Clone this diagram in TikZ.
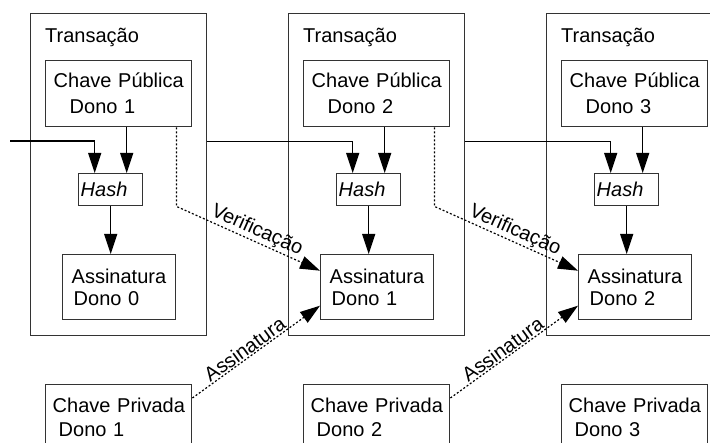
\documentclass[tikz,border=0pt]{standalone}
\usepackage{fontspec}
\setmainfont{Liberation Sans}
\usetikzlibrary{arrows.meta}
\begin{document}
\begin{tikzpicture}[x=1pt,y=-1pt,font=\fontsize{20}{24}\selectfont,
    box/.style={draw=black!80,line width=1.4pt,anchor=north west,align=left,inner ysep=0pt},
    arr/.style={-{Triangle[length=20pt,width=13pt]},line width=1.2pt},
    dot/.style={arr,dash pattern=on 2pt off 2pt}]
\useasboundingbox (0,0) rectangle (710,443);
\foreach \i [evaluate=\i as \x using 258*\i] in {0,1,2} { % три транзакции
    \pgfmathtruncatemacro\k{\i+1}
    \node[box,minimum width=176pt,minimum height=322pt] (tx\i) at (30+\x,13) {}; % рамка транзакции
    \node[anchor=base west,inner sep=0pt] (ttl\i) at (45+\x,43) {Transação};
    \node[box,text width=130pt,inner xsep=8pt,minimum height=66pt,font=\fontsize{20}{26}\selectfont] (pub\i) at (45+\x,60) {\mbox{Chave Pública}\\\hspace*{16pt}Dono \k};
    \node[box,text width=60pt,inner xsep=2pt,minimum height=32pt,font=\fontsize{20}{24}\itshape] (hash\i) at (78+\x,173) {Hash};
    \node[box,text width=95pt,inner xsep=9pt,minimum height=65pt,font=\fontsize{20}{22}\selectfont] (sig\i) at (62+\x,254) {\mbox{Assinatura}\\\hspace*{2pt}Dono \i};
    \node[box,text width=132pt,inner xsep=7pt,minimum height=65pt] (priv\i) at (45+\x,384) {\mbox{Chave Privada}\\\hspace*{6pt}Dono \k};
    \coordinate (hin\i) at ([xshift=-16pt]hash\i.north); % вход от предыдущей транзакции
    \coordinate (hpk\i) at ([xshift=16pt]hash\i.north); % вход от ключа
    \draw[arr] (hpk\i |- pub\i.south) -- (hpk\i);
    \draw[arr] (hash\i.south) -- (hash\i.south |- sig\i.north);
}
\coordinate (in) at (10,141); % линия слева
\draw[arr] (in) -| (hin0);
\foreach \a/\b in {0/1,1/2} { % связи между транзакциями
    \coordinate (out\a) at ([yshift=33pt]tx\a.east);
    \draw[arr] (out\a) -| (hin\b);
    \coordinate (vk\a) at ([xshift=-16pt]pub\a.south east);
    \draw[dot] (vk\a) -- (vk\a |- hash\a.south) -- node[sloped,above,pos=0.53,inner sep=1pt] (ver\a) {Verificação} ([yshift=16.5pt]sig\b.west);
    \draw[dot] ([yshift=-14pt]priv\a.north east) -- node[sloped,above,pos=0.45,inner sep=1pt] (ass\a) {Assinatura} ([yshift=-18.5pt]sig\b.west);
}
\end{tikzpicture}
\end{document}
